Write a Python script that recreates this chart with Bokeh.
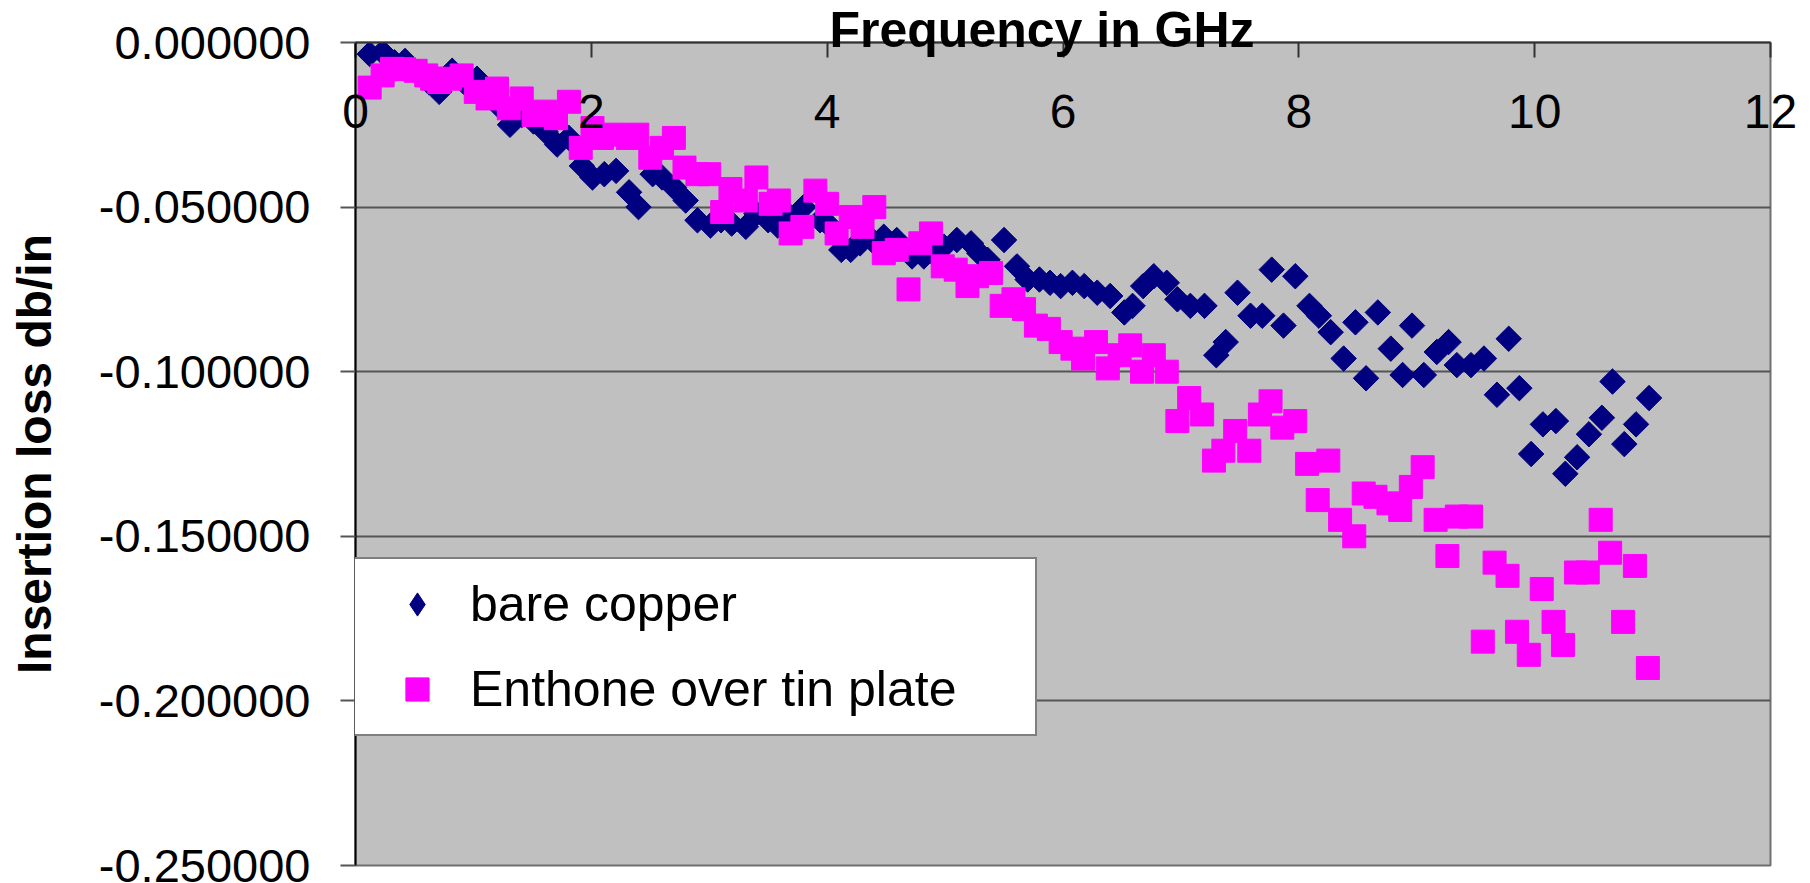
import math
from bokeh.plotting import figure
from bokeh.models import FixedTicker, PrintfTickFormatter, Legend, LegendItem
from bokeh.embed import file_html
from bokeh.resources import INLINE

# ---- data ----
copper_freq = [0.12, 0.23, 0.33, 0.42, 0.53, 0.62, 0.71, 0.82, 0.92, 1.03, 1.12, 1.21, 1.31, 1.41,
               1.51, 1.61, 1.71, 1.81, 1.92, 2.01, 2.11, 2.21, 2.32, 2.40, 2.52, 2.60, 2.70, 2.80,
               2.90, 3.01, 3.10, 3.19, 3.31, 3.40, 3.50, 3.58, 3.69, 3.80, 3.94, 4.03, 4.12, 4.20,
               4.28, 4.38, 4.48, 4.59, 4.72, 4.82, 4.90, 4.99, 5.10, 5.22, 5.29, 5.36, 5.50, 5.61,
               5.70, 5.80, 5.89, 5.98, 6.08, 6.18, 6.29, 6.40, 6.52, 6.59, 6.68, 6.77, 6.88, 6.97,
               7.08, 7.20, 7.30, 7.38, 7.48, 7.59, 7.69, 7.77, 7.87, 7.97, 8.09, 8.17, 8.27, 8.38,
               8.48, 8.57, 8.67, 8.78, 8.88, 8.96, 9.06, 9.17, 9.27, 9.34, 9.46, 9.57, 9.68, 9.78,
               9.87, 9.97, 10.07, 10.18, 10.26, 10.36, 10.46, 10.57, 10.66, 10.76, 10.86, 10.97]
copper_loss = [-0.0035, -0.0030, -0.0060, -0.0056, -0.0090, -0.0120, -0.0150, -0.0086, -0.0120,
               -0.0110, -0.0160, -0.0190, -0.0250, -0.0220, -0.0240, -0.0270, -0.0310, -0.0290,
               -0.0375, -0.0410, -0.0400, -0.0390, -0.0455, -0.0500, -0.0400, -0.0410, -0.0440,
               -0.0480, -0.0540, -0.0556, -0.0540, -0.0550, -0.0560, -0.0520, -0.0540, -0.0556,
               -0.0530, -0.0500, -0.0540, -0.0560, -0.0630, -0.0630, -0.0610, -0.0600, -0.0590,
               -0.0600, -0.0650, -0.0650, -0.0640, -0.0620, -0.0600, -0.0610, -0.0640, -0.0660,
               -0.0600, -0.0680, -0.0720, -0.0720, -0.0730, -0.0740, -0.0730, -0.0740, -0.0760,
               -0.0770, -0.0820, -0.0800, -0.0740, -0.0710, -0.0730, -0.0780, -0.0800, -0.0800,
               -0.0950, -0.0910, -0.0760, -0.0830, -0.0830, -0.0690, -0.0860, -0.0710, -0.0800,
               -0.0830, -0.0880, -0.0960, -0.0850, -0.1020, -0.0820, -0.0930, -0.1010, -0.0860,
               -0.1010, -0.0940, -0.0910, -0.0980, -0.0980, -0.0960, -0.1070, -0.0900, -0.1050,
               -0.1250, -0.1160, -0.1150, -0.1310, -0.1260, -0.1190, -0.1140, -0.1030, -0.1220,
               -0.1160, -0.1080]

tin_freq = [0.12, 0.23, 0.31, 0.41, 0.51, 0.60, 0.65, 0.71, 0.80, 0.90, 1.02, 1.12, 1.20, 1.30,
            1.41, 1.51, 1.61, 1.70, 1.81, 1.91, 2.01, 2.09, 2.19, 2.31, 2.39, 2.50, 2.60, 2.70,
            2.79, 2.90, 3.00, 3.11, 3.18, 3.31, 3.40, 3.52, 3.59, 3.69, 3.79, 3.90, 4.00, 4.08,
            4.20, 4.30, 4.40, 4.48, 4.59, 4.69, 4.79, 4.88, 4.98, 5.09, 5.19, 5.27, 5.39, 5.48,
            5.58, 5.67, 5.77, 5.88, 5.98, 6.08, 6.17, 6.28, 6.38, 6.48, 6.57, 6.67, 6.77, 6.88,
            6.97, 7.07, 7.18, 7.28, 7.36, 7.46, 7.58, 7.67, 7.76, 7.86, 7.97, 8.07, 8.16, 8.25,
            8.35, 8.47, 8.55, 8.65, 8.76, 8.86, 8.95, 9.05, 9.16, 9.26, 9.34, 9.46, 9.56, 9.66,
            9.77, 9.85, 9.95, 10.06, 10.16, 10.24, 10.35, 10.45, 10.56, 10.64, 10.75, 10.85, 10.96]
tin_loss = [-0.0137, -0.0100, -0.0080, -0.0081, -0.0086, -0.0100, -0.0110, -0.0120, -0.0110,
            -0.0100, -0.0150, -0.0170, -0.0140, -0.0200, -0.0170, -0.0220, -0.0210, -0.0230,
            -0.0180, -0.0320, -0.0260, -0.0290, -0.0280, -0.0290, -0.0280, -0.0350, -0.0320,
            -0.0290, -0.0380, -0.0400, -0.0400, -0.0515, -0.0445, -0.0480, -0.0410, -0.0490,
            -0.0480, -0.0580, -0.0560, -0.0450, -0.0490, -0.0580, -0.0530, -0.0560, -0.0500,
            -0.0640, -0.0630, -0.0750, -0.0610, -0.0580, -0.0680, -0.0690, -0.0740, -0.0710,
            -0.0700, -0.0800, -0.0780, -0.0810, -0.0860, -0.0870, -0.0910, -0.0930, -0.0960,
            -0.0910, -0.0990, -0.0950, -0.0920, -0.1000, -0.0950, -0.1000, -0.1150, -0.1080,
            -0.1130, -0.1270, -0.1240, -0.1180, -0.1240, -0.1130, -0.1090, -0.1170, -0.1150,
            -0.1280, -0.1390, -0.1270, -0.1450, -0.1500, -0.1370, -0.1380, -0.1400, -0.1420,
            -0.1350, -0.1290, -0.1450, -0.1560, -0.1440, -0.1440, -0.1820, -0.1580, -0.1620,
            -0.1790, -0.1860, -0.1660, -0.1760, -0.1830, -0.1610, -0.1610, -0.1450, -0.1550,
            -0.1760, -0.1590, -0.1900]

x_ticks = [0, 2, 4, 6, 8, 10, 12]
y_ticks = [-0.25, -0.20, -0.15, -0.10, -0.05, 0.0]
series_names = ["bare copper", "Enthone over tin plate"]

FONT = "Liberation Sans"
NAVY = "#000080"
MAGENTA = "#FF00FF"

p = figure(width=1810, height=883, output_backend="svg", toolbar_location=None,
           x_range=(0, 12), y_range=(-0.25, 0), x_axis_location="above",
           min_border_left=355, min_border_right=40, min_border_bottom=18, min_border_top=42,
           background_fill_color="#C0C0C0", border_fill_color="white")

p.title.text = "Frequency in GHz"
p.title.align = "left"
p.title.offset = 474
p.title.text_font = FONT
p.title.text_font_size = "50px"
p.title.text_font_style = "bold"
p.title.text_color = "black"
p.title.standoff = -31

# legend proxy for the diamond shape (hidden beneath the real diamonds)
r1_key = p.scatter(copper_freq, copper_loss, marker="diamond", size=8,
                   fill_color=NAVY, line_color=NAVY)
r1 = p.scatter(copper_freq, copper_loss, marker="square", angle=math.pi / 4, size=18,
               fill_color=NAVY, line_color=NAVY)
r2 = p.scatter(tin_freq, tin_loss, marker="square", size=23,
               fill_color=MAGENTA, line_color=MAGENTA)

# x axis (top) with labels drawn just inside the frame
xa = p.xaxis[0]
xa.ticker = FixedTicker(ticks=x_ticks)
xa.major_label_text_font = FONT
xa.major_label_text_font_size = "48px"
xa.major_label_text_color = "black"
xa.major_label_standoff = -85
xa.major_tick_in = 15
xa.major_tick_out = 0
xa.minor_tick_line_color = None
xa.axis_line_color = "#333333"
xa.axis_line_width = 2
xa.major_tick_line_color = "#333333"
xa.major_tick_line_width = 2

ya = p.yaxis[0]
ya.ticker = FixedTicker(ticks=y_ticks)
ya.formatter = PrintfTickFormatter(format="%.6f")
ya.major_label_text_font = FONT
ya.major_label_text_font_size = "47px"
ya.major_label_text_color = "black"
ya.major_label_standoff = 30
ya.major_tick_in = 0
ya.major_tick_out = 15
ya.minor_tick_line_color = None
ya.axis_line_color = "black"
ya.axis_line_width = 2
ya.major_tick_line_color = "#555555"
ya.major_tick_line_width = 2
ya.axis_label = "Insertion loss db/in"
ya.axis_label_text_font = FONT
ya.axis_label_text_font_size = "48px"
ya.axis_label_text_font_style = "bold"
ya.axis_label_text_color = "black"
ya.axis_label_standoff = 35

p.xgrid.visible = False
p.ygrid.grid_line_color = "#555555"
p.ygrid.grid_line_width = 2
p.outline_line_color = "#707070"
p.outline_line_width = 2

legend = Legend(items=[LegendItem(label=series_names[0], renderers=[r1_key]),
                       LegendItem(label=series_names[1], renderers=[r2])],
                location=(-9, 129), orientation="vertical")
legend.margin = 0
legend.padding = 16
legend.spacing = 27
legend.glyph_width = 106
legend.glyph_height = 58
legend.label_height = 58
legend.label_width = 549
legend.label_standoff = 0
legend.label_text_font = FONT
legend.label_text_font_size = "50px"
legend.label_text_color = "black"
legend.border_line_color = "black"
legend.border_line_width = 2
legend.background_fill_color = "white"
legend.background_fill_alpha = 1.0
p.add_layout(legend, "center")

open("out.html", "w").write(file_html(p, INLINE))
